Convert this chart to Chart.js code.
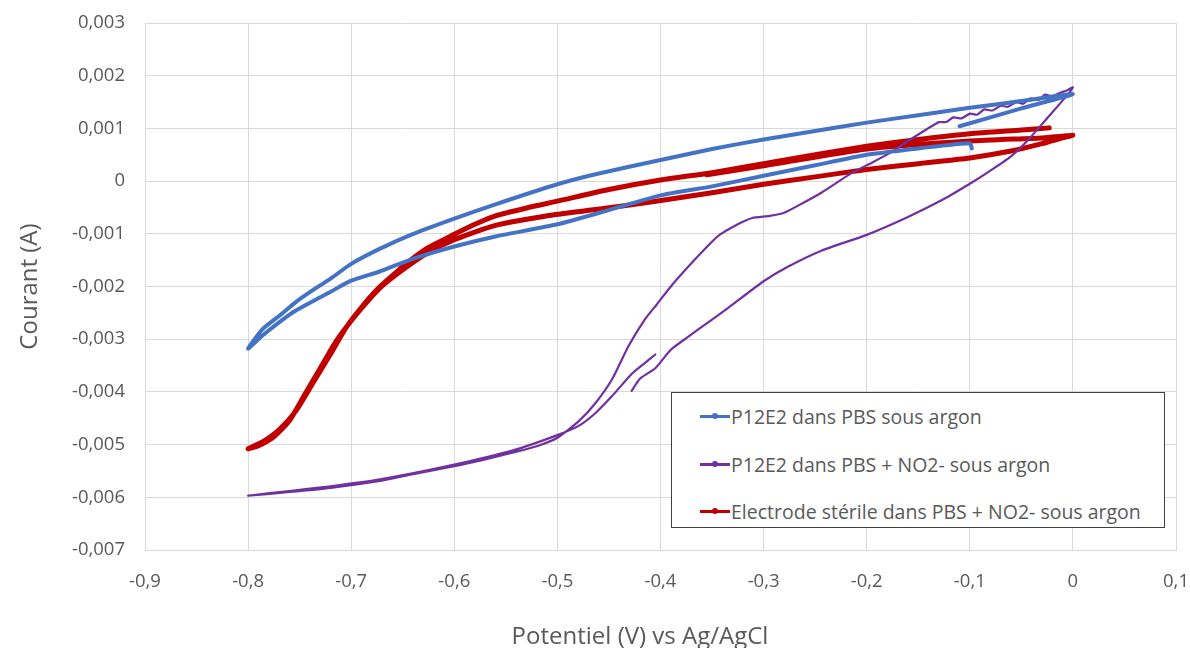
<!DOCTYPE html>
<html>
<head>
<meta charset="utf-8">
<script src="https://cdn.jsdelivr.net/npm/chart.js@4.4.1/dist/chart.umd.min.js"></script>
<style>
    html, body { margin: 0; padding: 0; background: #fff; overflow: hidden; }
    #wrap { position: relative; width: 1190px; height: 648px; }
    #cv { display: block; }
    #xtitle {
        position: absolute; left: 640px; top: 620px; transform: translateX(-50%);
        font-family: "Open Sans", sans-serif; font-size: 24px; line-height: 29px;
        color: #595959; white-space: nowrap;
    }
    #legend {
        position: absolute; left: 671px; top: 392px; width: 494px; height: 136px;
        border: 1px solid #404040; background: #fff; box-sizing: border-box;
        font-family: "Open Sans", sans-serif; font-size: 19.5px; color: #595959;
        padding-top: 0;
    }
    .item { display: flex; align-items: center; height: 47.5px; padding-left: 28px; }
    .swatch { position: relative; width: 30px; height: 3px; margin-right: 1px; }
    .swatch span { position: absolute; left: 12px; top: -2px; width: 6px; height: 6px; border-radius: 50%; }
</style>
</head>
<body>
<div id="wrap">
    <canvas id="cv"></canvas>
    <div id="xtitle">Potentiel (V) vs Ag/AgCl</div>
    <div id="legend"></div>
</div>
<script>
// Axis ticks
const xTickLabels = ['-0,9', '-0,8', '-0,7', '-0,6', '-0,5', '-0,4', '-0,3', '-0,2', '-0,1', '0', '0,1'];
const yTickLabels = ['-0,007', '-0,006', '-0,005', '-0,004', '-0,003', '-0,002', '-0,001', '0', '0,001', '0,002', '0,003'];

// Series names
const seriesNames = [
    'P12E2 dans PBS sous argon',
    'P12E2 dans PBS + NO2- sous argon',
    'Electrode stérile dans PBS + NO2- sous argon'
];

// P12E2 in PBS (V, A)
const pbsPotential = [
    -0.098, -0.1, -0.15, -0.2, -0.25, -0.3, -0.35, -0.4, -0.45, -0.5, -0.56, -0.6, -0.641, -0.673, -0.7, -0.72, -0.754, -0.77, -0.786, -0.8,
    -0.786, -0.77, -0.754, -0.738, -0.72, -0.7, -0.673, -0.641, -0.6, -0.56, -0.5, -0.463, -0.4, -0.35, -0.3, -0.25, -0.2, -0.15, -0.1, -0.05, 0,
    -0.05, -0.11
];
const pbsCurrent = [
    0.00062, 0.00072, 0.00062, 0.0005, 0.0003, 0.0001, -0.0001, -0.00027, -0.00055, -0.00082, -0.00105, -0.00124, -0.00148, -0.00172, -0.00189, -0.0021, -0.00246, -0.00268, -0.00293, -0.00318,
    -0.00281, -0.00256, -0.0023, -0.00208, -0.00185, -0.00157, -0.00129, -0.00101, -0.00071, -0.00044, -0.00006, 0.00013, 0.0004, 0.00061, 0.00079, 0.00095, 0.00111, 0.00125, 0.00139, 0.00152, 0.00165,
    0.00138, 0.00104
];

// P12E2 in PBS + NO2- (V, A)
const nitritePotential = [
    -0.428, -0.42, -0.405, -0.39, -0.375, -0.363, -0.35, -0.334, -0.3, -0.277, -0.244, -0.2, -0.16, -0.127, -0.1, -0.08, -0.06, -0.043, -0.026, -0.009, 0,
    -0.006, -0.012, -0.02, -0.027, -0.033, -0.041, -0.048, -0.055, -0.063, -0.07, -0.078, -0.086, -0.093, -0.1, -0.108, -0.116, -0.123, -0.13, -0.137, -0.143,
    -0.16, -0.177, -0.195, -0.214, -0.244, -0.267, -0.28, -0.294, -0.311, -0.325, -0.344, -0.36, -0.378, -0.39, -0.404, -0.415, -0.431, -0.447, -0.463, -0.479, -0.5, -0.52, -0.543, -0.57, -0.6, -0.64, -0.672, -0.72, -0.76, -0.8,
    -0.76, -0.72, -0.672, -0.6, -0.543, -0.5, -0.479, -0.463, -0.447, -0.428, -0.415, -0.405
];
const nitriteCurrent = [
    -0.00398, -0.00375, -0.00355, -0.0032, -0.00298, -0.00281, -0.00263, -0.0024, -0.0019, -0.00163, -0.00132, -0.00102, -0.00068, -0.00036, -0.00005, 0.0002, 0.00047, 0.00079, 0.00117, 0.00155, 0.00178,
    0.00172, 0.00168, 0.00161, 0.00164, 0.00154, 0.00157, 0.00147, 0.0015, 0.00141, 0.00143, 0.00134, 0.00136, 0.00126, 0.00128, 0.00119, 0.00121, 0.00112, 0.00112, 0.00104, 0.00097,
    0.00076, 0.00054, 0.00035, 0.00016, -0.00022, -0.00047, -0.0006, -0.00066, -0.0007, -0.00082, -0.00104, -0.00135, -0.00173, -0.002, -0.00235, -0.00262, -0.00313, -0.00376, -0.00421, -0.00455, -0.00487, -0.00503, -0.00515, -0.00528, -0.00541, -0.00556, -0.00569, -0.00582, -0.0059, -0.00597,
    -0.00588, -0.00579, -0.00566, -0.00538, -0.00511, -0.00482, -0.00464, -0.0044, -0.00408, -0.00366, -0.00345, -0.00329
];

// Sterile electrode in PBS + NO2- (V, A)
const sterilePotential = [
    -0.023, -0.05, -0.1, -0.15, -0.2, -0.25, -0.3, -0.35, -0.4, -0.45, -0.5, -0.53, -0.56, -0.58, -0.6, -0.625, -0.641, -0.657, -0.673, -0.689, -0.705, -0.72, -0.738, -0.754, -0.77, -0.786, -0.8,
    -0.79, -0.775, -0.76, -0.745, -0.73, -0.715, -0.7, -0.685, -0.67, -0.65, -0.625, -0.6, -0.56, -0.5, -0.463, -0.411, -0.35, -0.3, -0.25, -0.2, -0.15, -0.1, -0.06, -0.03, -0.01, 0,
    -0.01, -0.03, -0.1, -0.2, -0.3, -0.355
];
const sterileCurrent = [
    0.00101, 0.00097, 0.0009, 0.00079, 0.00066, 0.0005, 0.00033, 0.00016, 0.00002, -0.00016, -0.00038, -0.00051, -0.00066, -0.00082, -0.00101, -0.00126, -0.00148, -0.00174, -0.00202, -0.00237, -0.00278, -0.00328, -0.00386, -0.00437, -0.00472, -0.00495, -0.00508,
    -0.00502, -0.00485, -0.00455, -0.00405, -0.00355, -0.00305, -0.00265, -0.0023, -0.00199, -0.00168, -0.00135, -0.00111, -0.00084, -0.00063, -0.00054, -0.0004, -0.00022, -0.00006, 0.00008, 0.00022, 0.00033, 0.00044, 0.00057, 0.00071, 0.00082, 0.00087,
    0.00085, 0.00082, 0.00076, 0.00061, 0.00029, 0.00012
];

const seriesColors = ['#4472C4', '#7030A0', '#C00000'];
const seriesWidths = [4, 2.2, 5];

function toPoints(xs, ys) {
    return xs.map((x, i) => ({ x: x, y: ys[i] }));
}

const tickFont = { family: '"Open Sans", sans-serif', size: 18.5 };
const titleFont = { family: '"Open Sans", sans-serif', size: 24 };
const gridColor = '#d9d9d9';

const datasets = [
    toPoints(pbsPotential, pbsCurrent),
    toPoints(nitritePotential, nitriteCurrent),
    toPoints(sterilePotential, sterileCurrent)
].map((pts, i) => ({
    label: seriesNames[i],
    data: pts,
    showLine: true,
    borderColor: seriesColors[i],
    backgroundColor: seriesColors[i],
    borderWidth: seriesWidths[i],
    pointRadius: 0,
    tension: 0.2,
    borderCapStyle: 'round',
    borderJoinStyle: 'round'
}));

const chart = new Chart(document.getElementById('cv'), {
    type: 'scatter',
    data: { datasets: datasets },
    options: {
        responsive: true,
        maintainAspectRatio: false,
        animation: false,
        layout: { padding: { top: 23, right: 14, left: 0, bottom: 0 } },
        plugins: {
            legend: { display: false },
            tooltip: { enabled: false }
        },
        scales: {
            x: {
                type: 'linear',
                min: -0.9,
                max: 0.1,
                // fixed band under the plot; edge labels fit in the layout padding
                afterFit: (scale) => {
                    scale.height = 98;
                    scale.paddingLeft = 0;
                    scale.paddingRight = 0;
                },
                grid: { color: gridColor, drawTicks: false },
                border: { color: gridColor },
                ticks: {
                    stepSize: 0.1,
                    padding: 21,
                    color: '#595959',
                    font: tickFont,
                    callback: (value) => xTickLabels[Math.round((value + 0.9) * 10)]
                }
            },
            y: {
                type: 'linear',
                min: -0.007,
                max: 0.003,
                afterFit: (scale) => {
                    scale.width = 145;
                    scale.paddingTop = 0;
                    scale.paddingBottom = 0;
                },
                grid: { color: gridColor, drawTicks: false },
                border: { color: gridColor },
                ticks: {
                    stepSize: 0.001,
                    padding: 20,
                    color: '#595959',
                    font: tickFont,
                    callback: (value) => yTickLabels[Math.round((value + 0.007) * 1000)]
                },
                title: {
                    display: true,
                    text: 'Courant (A)',
                    color: '#595959',
                    font: titleFont,
                    padding: { top: 16, bottom: 0 }
                }
            }
        }
    }
});

// Legend box, built from the datasets
const legendEl = document.getElementById('legend');
chart.data.datasets.forEach((ds) => {
    const item = document.createElement('div');
    item.className = 'item';
    const sw = document.createElement('div');
    sw.className = 'swatch';
    sw.style.background = ds.borderColor;
    const dot = document.createElement('span');
    dot.style.background = ds.borderColor;
    sw.appendChild(dot);
    const txt = document.createElement('div');
    txt.textContent = ds.label;
    item.appendChild(sw);
    item.appendChild(txt);
    legendEl.appendChild(item);
});
</script>
</body>
</html>
